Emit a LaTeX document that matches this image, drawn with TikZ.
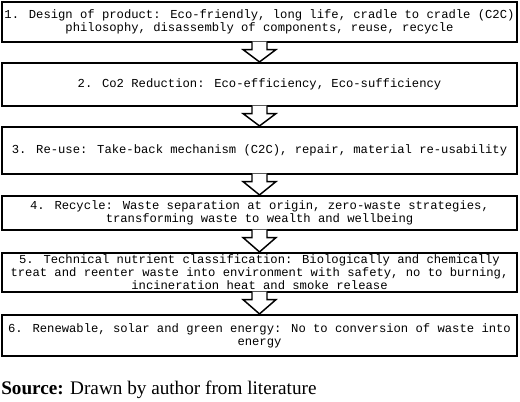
\documentclass[tikz,border=0pt]{standalone}
\usepackage{fontspec}
\setmainfont{Liberation Serif}
\newfontfamily\stagefont{Liberation Mono}
\usetikzlibrary{calc}

\begin{document}
\begin{tikzpicture}[x=0.75pt, y=0.75pt,
    stage/.style={draw, line width=1.6pt, minimum width=386.25pt, align=center, inner sep=0pt,
        font={\stagefont\fontsize{9.15pt}{9.8pt}\selectfont}},
    flow/.style={draw, line width=1.1pt, fill=white, line join=miter}]
    \useasboundingbox (0,0) rectangle (520,401);

    % Draw the stages of the cycle
    \node[stage, minimum height=30pt] (s1) at (259.5,379) {1. Design of product: Eco-friendly, long life, cradle to cradle (C2C)\\philosophy, disassembly of components, reuse, recycle};
    \node[stage, minimum height=32.25pt] (s2) at (259.5,316.5) {2. Co2 Reduction: Eco-efficiency, Eco-sufficiency};
    \node[stage, minimum height=35.25pt] (s3) at (259.5,250.5) {3. Re-use: Take-back mechanism (C2C), repair, material re-usability};
    \node[stage, minimum height=25.5pt] (s4) at (259.5,188) {4. Recycle: Waste separation at origin, zero-waste strategies,\\transforming waste to wealth and wellbeing};
    \node[stage, minimum height=29.25pt] (s5) at (259.5,128.5) {5. Technical nutrient classification: Biologically and chemically\\treat and reenter waste into environment with safety, no to burning,\\incineration heat and smoke release};
    \node[stage, minimum height=30.75pt] (s6) at (259.5,65.5) {6. Renewable, solar and green energy: No to conversion of waste into\\energy};

    % Draw block arrows between the stages
    \foreach \a/\b in {s1/s2, s2/s3, s3/s4, s4/s5, s5/s6} {
        \coordinate (w) at ($(\a.south)+(0,-6.5)$);
        \filldraw[flow] ($(\a.south)+(-7.5,1.5)$) -- ($(w)+(-7.5,0)$) -- ($(w)+(-16.5,0)$) -- (\b.north)
            -- ($(w)+(16.5,0)$) -- ($(w)+(7.5,0)$) -- ($(\a.south)+(7.5,1.5)$);
    }

    % Add the source line
    \node[anchor=base west, inner sep=0pt, font={\fontsize{14.4pt}{17pt}\selectfont}] (src) at (1,7) {\textbf{Source:} Drawn by author from literature};
\end{tikzpicture}
\end{document}
